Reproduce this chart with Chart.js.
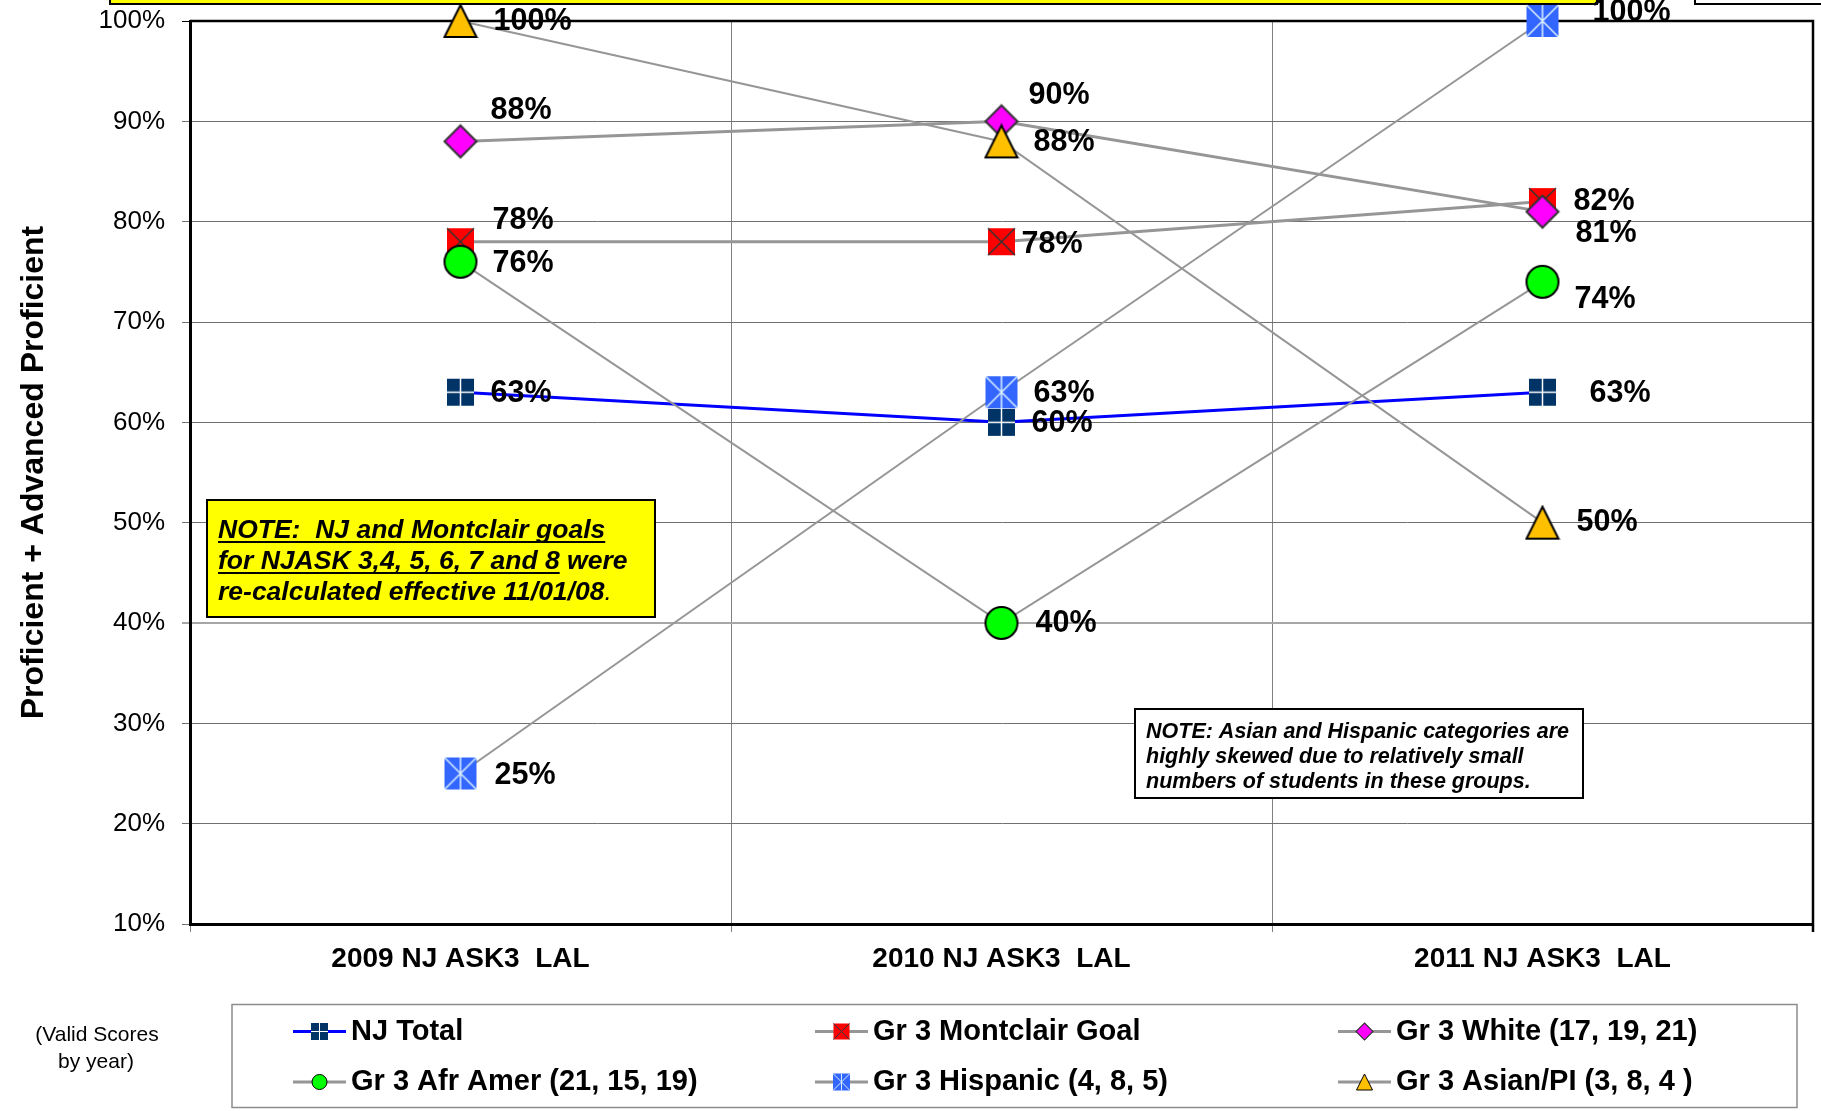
<!DOCTYPE html>
<html>
<head>
<meta charset="utf-8">
<title>Gr 3 NJ ASK3 LAL</title>
<script src="https://cdn.jsdelivr.net/npm/chart.js@4.4.1/dist/chart.umd.min.js"></script>
<style>
  html, body { margin: 0; padding: 0; background: #ffffff; }
  canvas { display: block; }
</style>
</head>
<body>
<canvas id="chart" width="1821" height="1111"></canvas>
<script>
const categories = ['2009 NJ ASK3  LAL', '2010 NJ ASK3  LAL', '2011 NJ ASK3  LAL'];

const njTotal = [63, 60, 63];
const montclairGoal = [78, 78, 82];
const gr3White = [88, 90, 81];
const gr3AfrAmer = [76, 40, 74];
const gr3Hispanic = [25, 63, 100];
const gr3AsianPI = [100, 88, 50];

const seriesNames = [
    'NJ Total',
    'Gr 3 Montclair Goal',
    'Gr 3 White (17, 19, 21)',
    'Gr 3 Afr Amer (21, 15, 19)',
    'Gr 3 Hispanic (4, 8, 5)',
    'Gr 3 Asian/PI (3, 8, 4 )'
];

const yMin = 10;
const yMax = 100;
const yStep = 10;

const FONT = "'Liberation Sans', Arial, sans-serif";

// draws one Excel-like marker centred on x,y
const drawMarker = (ctx, kind, x, y, s) => {
    const h = s / 2;
    ctx.save();
    if (kind === 'navyPlus') {
        ctx.fillStyle = '#003366';
        ctx.fillRect(x - h, y - h, s, s);
        ctx.strokeStyle = '#ffffff';
        ctx.lineWidth = Math.max(1, s / 18);
        ctx.beginPath();
        ctx.moveTo(x - h, y); ctx.lineTo(x + h, y);
        ctx.moveTo(x, y - h); ctx.lineTo(x, y + h);
        ctx.stroke();
    } else if (kind === 'redX') {
        ctx.fillStyle = '#ff0000';
        ctx.fillRect(x - h, y - h, s, s);
        ctx.strokeStyle = '#333333';
        ctx.lineWidth = Math.max(1, s / 18);
        ctx.beginPath();
        ctx.moveTo(x - h, y - h); ctx.lineTo(x + h, y + h);
        ctx.moveTo(x + h, y - h); ctx.lineTo(x - h, y + h);
        ctx.stroke();
    } else if (kind === 'diamond') {
        ctx.fillStyle = '#ff00ff';
        ctx.strokeStyle = '#333333';
        ctx.lineWidth = Math.max(1, s / 16);
        ctx.beginPath();
        ctx.moveTo(x, y - h); ctx.lineTo(x + h, y);
        ctx.lineTo(x, y + h); ctx.lineTo(x - h, y);
        ctx.closePath();
        ctx.fill(); ctx.stroke();
    } else if (kind === 'circle') {
        ctx.fillStyle = '#00ff00';
        ctx.strokeStyle = '#000000';
        ctx.lineWidth = Math.max(1, s / 16);
        ctx.beginPath();
        ctx.arc(x, y, h, 0, Math.PI * 2);
        ctx.fill(); ctx.stroke();
    } else if (kind === 'blueStar') {
        ctx.fillStyle = '#3366ff';
        ctx.fillRect(x - h, y - h, s, s);
        ctx.strokeStyle = '#d6ecff';
        ctx.lineWidth = Math.max(1, s / 20);
        ctx.beginPath();
        ctx.moveTo(x - h, y - h); ctx.lineTo(x + h, y + h);
        ctx.moveTo(x + h, y - h); ctx.lineTo(x - h, y + h);
        ctx.moveTo(x, y - h); ctx.lineTo(x, y + h);
        ctx.stroke();
    } else if (kind === 'triangle') {
        ctx.fillStyle = '#ffc000';
        ctx.strokeStyle = '#000000';
        ctx.lineWidth = Math.max(1, s / 16);
        ctx.beginPath();
        ctx.moveTo(x, y - h); ctx.lineTo(x + h, y + h);
        ctx.lineTo(x - h, y + h);
        ctx.closePath();
        ctx.fill(); ctx.stroke();
    }
    ctx.restore();
};

const markerCanvas = (kind, s) => {
    const c = document.createElement('canvas');
    c.width = s + 4;
    c.height = s + 4;
    drawMarker(c.getContext('2d'), kind, c.width / 2, c.height / 2, s);
    return c;
};

// per series look: marker kind, marker size, legend marker size, line colour, line width, draw order
const seriesStyle = [
    { kind: 'navyPlus', size: 27, legendSize: 17, color: '#0000ff', width: 3, order: 6 },
    { kind: 'redX', size: 27, legendSize: 16, color: '#969696', width: 3, order: 5 },
    { kind: 'diamond', size: 32, legendSize: 17, color: '#969696', width: 3, order: 4 },
    { kind: 'circle', size: 32, legendSize: 15, color: '#969696', width: 2, order: 3 },
    { kind: 'blueStar', size: 32, legendSize: 17, color: '#969696', width: 2, order: 2 },
    { kind: 'triangle', size: 32, legendSize: 16, color: '#969696', width: 2, order: 1 }
];

// where each value label sits relative to its point (dx to text start, dy to text middle)
const labelOffsets = [
    [[30, 1], [30, 1], [47, 1]],
    [[32, -21], [20, 3], [31, 0]],
    [[30, -31], [27, -26], [33, 22]],
    [[32, 2], [34, 1], [32, 18]],
    [[34, 2], [32, 1], [50, -8]],
    [[33, 1], [32, 1], [34, 0]]
];

const seriesValues = [njTotal, montclairGoal, gr3White, gr3AfrAmer, gr3Hispanic, gr3AsianPI];

const datasets = seriesValues.map((values, i) => {
    const st = seriesStyle[i];
    return {
        label: seriesNames[i],
        data: values,
        borderColor: st.color,
        borderWidth: st.width,
        backgroundColor: st.color,
        pointStyle: markerCanvas(st.kind, st.size),
        pointRadius: st.size / 2,
        pointHoverRadius: st.size / 2,
        tension: 0,
        fill: false,
        clip: false,
        order: st.order
    };
});

const decorPlugin = {
    id: 'decor',
    beforeDraw(chart) {
        const ctx = chart.ctx;
        ctx.save();
        ctx.fillStyle = '#ffffff';
        ctx.fillRect(0, 0, chart.width, chart.height);
        // cut-off boxes at the very top of the slide
        ctx.fillStyle = '#ffff00';
        ctx.strokeStyle = '#000000';
        ctx.lineWidth = 2;
        ctx.fillRect(110, -20, 1487, 24);
        ctx.strokeRect(110, -20, 1487, 24);
        ctx.fillStyle = '#ffffff';
        ctx.fillRect(1695, -20, 160, 24);
        ctx.strokeRect(1695, -20, 160, 24);
        ctx.restore();
    },
    beforeDatasetsDraw(chart) {
        const ctx = chart.ctx;
        const a = chart.chartArea;
        ctx.save();
        ctx.strokeStyle = '#000000';
        ctx.lineWidth = 2.5;
        ctx.beginPath();
        ctx.moveTo(a.left, a.top);
        ctx.lineTo(a.right, a.top);
        ctx.lineTo(a.right, a.bottom + 8);
        ctx.stroke();

        // yellow note
        ctx.fillStyle = '#ffff00';
        ctx.fillRect(207, 500, 448, 117);
        ctx.lineWidth = 2;
        ctx.strokeRect(207, 500, 448, 117);
        ctx.fillStyle = '#000000';
        ctx.textBaseline = 'alphabetic';
        ctx.textAlign = 'left';
        ctx.font = 'italic bold 26.5px ' + FONT;
        const underline = (text, x, y) => {
            ctx.fillText(text, x, y);
            const w = ctx.measureText(text).width;
            ctx.fillRect(x, y + 3, w, 2);
            return w;
        };
        underline('NOTE:  NJ and Montclair goals', 218, 538);
        const w2 = underline('for NJASK 3,4, 5, 6, 7 and 8', 218, 569);
        ctx.fillText(' were', 218 + w2, 569);
        ctx.fillText('re-calculated effective 11/01/08', 218, 600);
        const w3 = ctx.measureText('re-calculated effective 11/01/08').width;
        ctx.font = 'italic 26.5px ' + FONT;
        ctx.fillText('.', 218 + w3, 600);

        // white note
        ctx.fillStyle = '#ffffff';
        ctx.fillRect(1135, 709, 448, 89);
        ctx.strokeStyle = '#000000';
        ctx.lineWidth = 2;
        ctx.strokeRect(1135, 709, 448, 89);
        ctx.fillStyle = '#000000';
        ctx.font = 'italic bold 21.5px ' + FONT;
        ctx.textBaseline = 'middle';
        ctx.fillText('NOTE: Asian and Hispanic categories are', 1146, 732);
        ctx.fillText('highly skewed due to relatively small', 1146, 757);
        ctx.fillText('numbers of students in these groups.', 1146, 782);
        ctx.restore();
    },
    afterDatasetsDraw(chart) {
        const ctx = chart.ctx;
        ctx.save();
        ctx.fillStyle = '#000000';
        ctx.font = 'bold 30.5px ' + FONT;
        ctx.textAlign = 'left';
        ctx.textBaseline = 'middle';
        chart.data.datasets.forEach((ds, i) => {
            const meta = chart.getDatasetMeta(i);
            meta.data.forEach((pt, j) => {
                const off = labelOffsets[i][j];
                ctx.fillText(ds.data[j] + '%', pt.x + off[0], pt.y + off[1]);
            });
        });
        ctx.restore();
    },
    afterDraw(chart) {
        const ctx = chart.ctx;
        ctx.save();
        // legend box
        ctx.strokeStyle = '#8c8c8c';
        ctx.lineWidth = 1.5;
        ctx.strokeRect(232, 1004.5, 1565, 103);
        const colX = [293, 815, 1338];
        const rowY = [1031.5, 1082];
        ctx.font = 'bold 29px ' + FONT;
        ctx.textAlign = 'left';
        ctx.textBaseline = 'middle';
        chart.data.datasets.forEach((ds, i) => {
            const st = seriesStyle[i];
            const x = colX[i % 3];
            const y = rowY[Math.floor(i / 3)];
            ctx.strokeStyle = st.color;
            ctx.lineWidth = 3;
            ctx.beginPath();
            ctx.moveTo(x, y);
            ctx.lineTo(x + 53, y);
            ctx.stroke();
            drawMarker(ctx, st.kind, x + 26.5, y, st.legendSize);
            ctx.fillStyle = '#000000';
            ctx.fillText(ds.label, x + 58, y);
        });
        // note left of legend
        ctx.font = '21px ' + FONT;
        ctx.textAlign = 'center';
        ctx.fillText('(Valid Scores', 97, 1035);
        ctx.fillText('by year)', 96, 1062);
        ctx.restore();
    }
};

const chart = new Chart(document.getElementById('chart').getContext('2d'), {
    type: 'line',
    data: {
        labels: categories,
        datasets: datasets
    },
    options: {
        responsive: false,
        animation: false,
        events: [],
        layout: {
            autoPadding: false,
            padding: { top: 21, right: 8, bottom: 0, left: 0 }
        },
        plugins: {
            legend: { display: false },
            tooltip: { enabled: false }
        },
        scales: {
            x: {
                type: 'category',
                offset: true,
                afterFit: (scale) => {
                    scale.height = 187;
                    scale.paddingLeft = 0;
                    scale.paddingRight = 0;
                },
                grid: {
                    offset: true,
                    color: '#808080',
                    lineWidth: 1,
                    tickLength: 8
                },
                border: { color: '#000000', width: 3 },
                ticks: {
                    color: '#000000',
                    font: { family: FONT, size: 28, weight: 'bold' },
                    padding: 10,
                    maxRotation: 0,
                    autoSkip: false
                }
            },
            y: {
                min: yMin,
                max: yMax,
                afterFit: (scale) => {
                    scale.width = 190;
                    scale.paddingTop = 0;
                    scale.paddingBottom = 0;
                },
                grid: {
                    color: (c) => c.tick && c.tick.value === yMax ? '#000000' : (c.tick && c.tick.value === 40 ? '#a6a6a6' : '#707070'),
                    lineWidth: (c) => c.tick && c.tick.value === 40 ? 2 : 1,
                    tickLength: 8
                },
                border: { color: '#000000', width: 3 },
                ticks: {
                    stepSize: yStep,
                    color: '#000000',
                    padding: 17,
                    font: { family: FONT, size: 26 },
                    callback: (v) => v + '%'
                },
                title: {
                    display: true,
                    text: 'Proficient + Advanced Proficient',
                    color: '#000000',
                    font: { family: FONT, size: 32, weight: 'bold' },
                    padding: { top: 15, bottom: 0 }
                }
            }
        }
    },
    plugins: [decorPlugin]
});
</script>
</body>
</html>
